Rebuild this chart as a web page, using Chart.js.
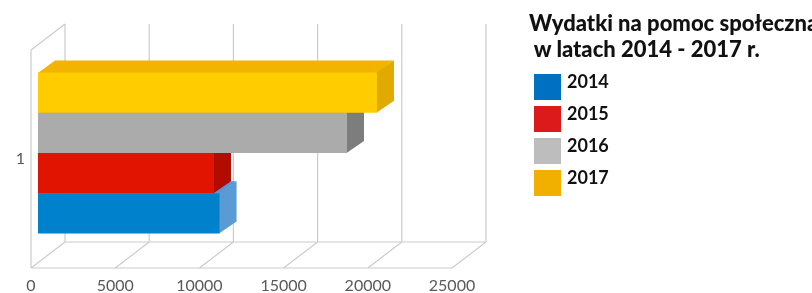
<!DOCTYPE html>
<html lang="pl">
<head>
<meta charset="utf-8">
<script src="https://cdn.jsdelivr.net/npm/chart.js@4.4.1/dist/chart.umd.min.js"></script>
<style>
  html, body { margin: 0; padding: 0; background: #fff; }
  #wrap { position: relative; width: 812px; height: 293px; overflow: hidden; }
  #c { position: absolute; left: 0; top: 0; }
  #title { position: absolute; left: 529px; top: 10px; font: 900 22px Lato, sans-serif; line-height: 26px; color: #111; white-space: pre; }
  .row { position: absolute; left: 534px; height: 26px; }
  .sw { position: absolute; left: 0; top: 0; width: 27px; height: 26px; }
  .lt { position: absolute; left: 33px; top: -3px; font: bold 18px Lato, sans-serif; line-height: 20px; color: #111; }
</style>
</head>
<body>
<div id="wrap">
  <canvas id="c" width="812" height="293"></canvas>
  <div id="title"></div>
  <div id="legend"></div>
</div>
<script>
// ---- data ----
const categories = ['1'];
const years = ['2014', '2015', '2016', '2017'];
const values2014 = [10780];
const values2015 = [10450];
const values2016 = [18350];
const values2017 = [20130];
const xTicks = [0, 5000, 10000, 15000, 20000, 25000];
const titleLines = ['Wydatki na pomoc społeczną', ' w latach 2014 - 2017 r.'];

// ---- styles ----
const frontColors = ['#0081CC', '#E01400', '#ABABAB', '#FFCC00'];
const sideColors  = ['#5B9BD5', '#B00C00', '#7D7D7D', '#E0AA00'];
const topColors   = ['#5597D6', '#C81000', '#999999', '#F3B400'];
const legendColors = ['#0070C0', '#DC1A1C', '#BDBDBD', '#F1AF00'];

const seriesValues = [values2014, values2015, values2016, values2017];

// datasets listed top bar first (2017 at top)
const order = [3, 2, 1, 0];
const datasets = order.map(i => ({
  label: years[i],
  data: seriesValues[i],
  backgroundColor: frontColors[i],
  borderWidth: 0,
  clip: false,
  categoryPercentage: 0.7385,
  barPercentage: 1.0,
  _series: i
}));

const OFF = { x: 7, y: -6 };     // bar front face offset from front plane
const DEP = { x: 17, y: -12 };   // bar depth
const WALL = { x: 34, y: -26 };  // wall depth

const threeD = {
  id: 'threeD',
  beforeDatasetsDraw(chart) {
    const { ctx, chartArea: a, scales: { x } } = chart;
    const px = xTicks.map(v => x.getPixelForValue(v));
    ctx.save();
    ctx.strokeStyle = '#cccccc';
    ctx.lineWidth = 1.2;
    ctx.beginPath();
    px.forEach(p => {
      ctx.moveTo(p + WALL.x, a.top + WALL.y); ctx.lineTo(p + WALL.x, a.bottom + WALL.y);
      ctx.moveTo(p, a.bottom); ctx.lineTo(p + WALL.x, a.bottom + WALL.y);
    });
    const x0 = px[0], xn = px[px.length - 1];
    ctx.moveTo(x0, a.bottom); ctx.lineTo(xn, a.bottom);
    ctx.moveTo(x0 + WALL.x, a.bottom + WALL.y); ctx.lineTo(xn + WALL.x, a.bottom + WALL.y);
    ctx.moveTo(x0, a.top); ctx.lineTo(x0, a.bottom);
    ctx.moveTo(x0, a.top); ctx.lineTo(x0 + WALL.x, a.top + WALL.y);
    ctx.stroke();
    ctx.restore();
  },
  beforeDatasetDraw(chart, args) {
    const ctx = chart.ctx;
    const ds = chart.data.datasets[args.index];
    const s = ds._series;
    const el = args.meta.data[0];
    const top = el.y - el.height / 2, bot = el.y + el.height / 2;
    const l = el.base, r = el.x;
    ctx.save();
    ctx.translate(OFF.x, OFF.y);
    ctx.fillStyle = topColors[s];
    ctx.beginPath();
    ctx.moveTo(l, top + 0.5); ctx.lineTo(l + DEP.x, top + DEP.y);
    ctx.lineTo(r + DEP.x, top + DEP.y); ctx.lineTo(r, top + 0.5);
    ctx.closePath(); ctx.fill();
    ctx.fillStyle = sideColors[s];
    ctx.beginPath();
    ctx.moveTo(r - 0.5, top); ctx.lineTo(r + DEP.x, top + DEP.y);
    ctx.lineTo(r + DEP.x, bot + DEP.y); ctx.lineTo(r - 0.5, bot);
    ctx.closePath(); ctx.fill();
  },
  afterDatasetDraw(chart) {
    chart.ctx.restore();
  }
};

new Chart(document.getElementById('c'), {
  type: 'bar',
  data: { labels: categories, datasets },
  plugins: [threeD],
  options: {
    indexAxis: 'y',
    responsive: false,
    animation: false,
    events: [],
    layout: { padding: { top: 50, right: 360, left: 0, bottom: 0 } },
    plugins: { legend: { display: false }, tooltip: { enabled: false }, title: { display: false } },
    scales: {
      x: {
        min: 0, max: 25000,
        afterBuildTicks(scale) { scale.ticks = xTicks.map(v => ({ value: v })); },
        grid: { display: false, drawTicks: false },
        border: { display: false },
        ticks: {
          color: '#595959', font: { family: 'Lato', size: 16 }, padding: 8, maxRotation: 0, autoSkip: false,
          callback: v => String(v)
        },
        afterFit(scale) { scale.height = 25; }
      },
      y: {
        grid: { display: false, drawTicks: false },
        border: { display: false },
        ticks: { color: '#595959', font: { family: 'Lato', size: 16 }, padding: 6 },
        afterFit(scale) { scale.width = 31; }
      }
    }
  }
});

// ---- HTML legend ----
document.getElementById('title').textContent = titleLines.join('\n');
const leg = document.getElementById('legend');
years.forEach((y, i) => {
  const row = document.createElement('div');
  row.className = 'row';
  row.style.top = (74 + i * 32) + 'px';
  const sw = document.createElement('div');
  sw.className = 'sw';
  sw.style.background = legendColors[i];
  const t = document.createElement('div');
  t.className = 'lt';
  t.textContent = y;
  row.appendChild(sw); row.appendChild(t);
  leg.appendChild(row);
});
</script>
</body>
</html>
